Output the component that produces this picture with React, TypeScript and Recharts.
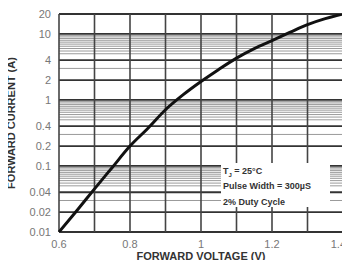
import {
  LineChart,
  Line,
  XAxis,
  YAxis,
  ReferenceLine,
} from "recharts";

// forward voltage (V) vs forward current (A)
const voltage = [0.6, 0.65, 0.7, 0.75, 0.8, 0.85, 0.9, 0.95, 1.0, 1.05, 1.1, 1.15, 1.2, 1.25, 1.3, 1.35, 1.4];
const current = [0.01, 0.021, 0.045, 0.095, 0.2, 0.37, 0.71, 1.2, 1.9, 2.9, 4.3, 6.0, 7.9, 10.5, 13.8, 17, 20];

const xTicks = [0.6, 0.8, 1, 1.2, 1.4];
const yTicks = [0.01, 0.02, 0.04, 0.1, 0.2, 0.4, 1, 2, 4, 10, 20];
const xGrid = [0.6, 0.7, 0.8, 0.9, 1.0, 1.1, 1.2, 1.3, 1.4];
const yMinor = [
  9.5, 9, 8.5, 8, 7.5, 7, 6.5, 6, 5.5, 5, 3,
  0.95, 0.9, 0.85, 0.8, 0.75, 0.7, 0.65, 0.6, 0.55, 0.5, 0.3,
  0.095, 0.09, 0.085, 0.08, 0.075, 0.07, 0.065, 0.06, 0.055, 0.05, 0.03,
];

const data = voltage.map((v, i) => ({ v, a: current[i] }));

const font = "'Liberation Sans', Arial, sans-serif";

// last label sits against the right edge, so pull it in
function XTick(props: any) {
  const { x, y, payload } = props;
  const last = payload.value === xTicks[xTicks.length - 1];
  return (
    <text
      x={last ? x + 6 : x}
      y={y}
      dy="0.71em"
      textAnchor={last ? "end" : "middle"}
      fill="#777"
      fontSize={11}
      fontFamily={font}
    >
      {String(payload.value)}
    </text>
  );
}

export default function App() {
  return (
    <div style={{ margin: -8, width: 350, height: 268, position: "relative", background: "#fff" }}>
      <LineChart
        width={350}
        height={268}
        data={data}
        margin={{ top: 14, right: 7, bottom: 6, left: 9 }}
      >
        <XAxis
          dataKey="v"
          type="number"
          domain={[0.6, 1.4]}
          ticks={xTicks}
          axisLine={false}
          tickLine={false}
          height={30}
          tick={<XTick />}
          label={{
            value: "FORWARD VOLTAGE (V)",
            position: "insideBottom",
            offset: 2,
            fill: "#333",
            fontSize: 11,
            fontWeight: "bold",
            fontFamily: font,
          }}
        />
        <YAxis
          dataKey="a"
          scale="log"
          domain={[0.01, 20]}
          allowDataOverflow
          ticks={yTicks}
          tickFormatter={(v) => String(v)}
          axisLine={false}
          tickLine={false}
          width={50}
          tick={{ fill: "#777", fontSize: 11, fontFamily: font }}
          label={{
            value: "FORWARD CURRENT (A)",
            angle: -90,
            position: "insideLeft",
            offset: 2,
            style: { textAnchor: "middle" },
            fill: "#333",
            fontSize: 11,
            fontWeight: "bold",
            fontFamily: font,
          }}
        />
        {yMinor.map((y) => (
          <ReferenceLine key={"m" + y} y={y} stroke="#9a9a9a" strokeWidth={1} />
        ))}
        {yTicks.map((y) => (
          <ReferenceLine key={"y" + y} y={y} stroke="#333" strokeWidth={1.8} />
        ))}
        {xGrid.map((x) => (
          <ReferenceLine key={"x" + x} x={x} stroke="#444" strokeWidth={1.6} />
        ))}
        <Line
          dataKey="a"
          type="monotone"
          stroke="#111"
          strokeWidth={3}
          dot={false}
          isAnimationActive={false}
        />
      </LineChart>
      <div
        style={{
          position: "absolute",
          left: 221,
          top: 163,
          width: 109,
          height: 44,
          background: "#fff",
          fontFamily: font,
          fontWeight: "bold",
          fontSize: 9,
          color: "#333",
          lineHeight: "11px",
          paddingLeft: 2,
          paddingTop: 3,
          boxSizing: "border-box",
        }}
      >
        <div>
          T<sub style={{ fontSize: 6 }}>J</sub> = 25°C
        </div>
        <div>Pulse Width = 300µS</div>
        <div style={{ marginTop: 5 }}>2% Duty Cycle</div>
      </div>
    </div>
  );
}
